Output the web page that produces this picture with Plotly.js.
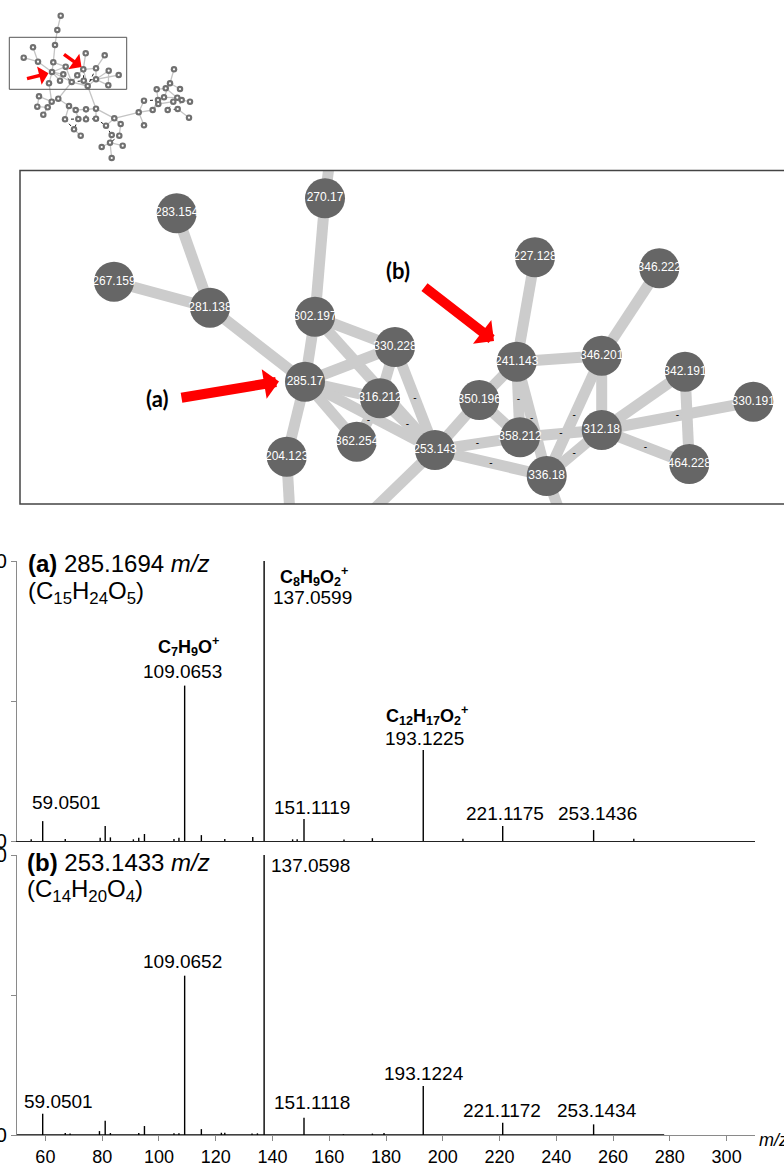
<!DOCTYPE html>
<html>
<head>
<meta charset="utf-8">
<script src="https://cdn.plot.ly/plotly-3.0.1.min.js"></script>
<style>
html,body{margin:0;padding:0;background:#fff;overflow:hidden;}
#chart{width:784px;height:1164px;}
</style>
</head>
<body>
<div id="chart"></div>
<script>
// ---------------- DATA ----------------
// Spectrum (a): precursor 285.1694 m/z
const massA = [55.0, 59.0501, 67.0, 79.3, 81.07, 82.9, 91.0, 92.9, 94.9, 105.3, 107.05, 109.0653, 114.95, 123.2, 133.06, 137.0599, 147.1, 148.7, 151.1119, 165.2, 175.2, 193.1225, 207.1, 221.1175, 253.1436, 267.3];
const intA  = [0.6, 7.1, 0.7, 1.2, 5.4, 1.3, 0.6, 1.2, 2.5, 0.7, 1.2, 55.5, 2.1, 0.7, 1.4, 100, 0.6, 0.6, 7.9, 0.5, 1.0, 32.5, 0.8, 5.4, 3.9, 0.8];
// Spectrum (b): precursor 253.1433 m/z
const massB = [59.0501, 67.0, 68.7, 79.05, 81.07, 82.9, 92.9, 94.9, 105.3, 107.05, 109.0652, 114.95, 122.0, 123.2, 132.8, 134.7, 137.0598, 151.1118, 165.0, 175.2, 179.3, 193.1224, 221.1172, 253.1434];
const intB  = [7.6, 0.7, 0.5, 1.4, 5.1, 0.7, 0.7, 3.2, 0.6, 0.6, 56.9, 2.1, 0.8, 0.8, 0.5, 0.6, 100, 6.2, 0.3, 0.5, 0.7, 17.5, 4.4, 3.8];
const scanRangeB = [50, 278];
const xTicks = [60, 80, 100, 120, 140, 160, 180, 200, 220, 240, 260, 280, 300];

// Molecular network (zoomed panel), node layout
const nodeLabels = ['270.17','283.154','267.159','281.138','302.197','330.228','285.17','316.212','362.254','204.123','253.143','350.196','241.143','227.128','346.222','346.201','342.191','330.191','312.18','358.212','336.18','464.228'];
const nodeX = [325,176.7,114,210,315,395,305,380,356.7,286.7,435,479.3,516.7,535,659.3,601.7,685,753.3,601.7,520,546.7,689.3];
const nodeY = [198.3,213.3,281.7,307.7,316.7,347,381.7,398.3,441.7,456.7,450,400,361.7,257.3,268.3,355.7,371.7,401.7,430,437.3,476,464];
// neighbours outside the zoomed window
const outLabels = ['o1','o2','o3','o4'];
const outX = [333.5, 291.4, 342, 570];
const outY = [130, 540, 540, 540];
const edges = [['270.17','o1'],['270.17','302.197'],['283.154','281.138'],['267.159','281.138'],['281.138','285.17'],['302.197','285.17'],['302.197','330.228'],['302.197','253.143'],['285.17','330.228'],['285.17','316.212'],['285.17','362.254'],['285.17','204.123'],['285.17','253.143'],['204.123','o2'],['330.228','316.212'],['330.228','253.143'],['316.212','253.143'],['316.212','362.254'],['253.143','o3'],['253.143','350.196'],['253.143','358.212'],['253.143','336.18'],['350.196','241.143'],['350.196','358.212'],['241.143','227.128'],['241.143','346.201'],['241.143','358.212'],['241.143','336.18'],['346.201','346.222'],['346.201','312.18'],['346.201','336.18'],['358.212','312.18'],['336.18','312.18'],['336.18','o4'],['312.18','342.191'],['312.18','330.191'],['312.18','464.228'],['342.191','464.228']];
const labeledEdges = [['316.212','253.143'],['330.228','253.143'],['253.143','358.212'],['253.143','336.18'],['241.143','358.212'],['241.143','336.18'],['346.201','336.18'],['358.212','312.18'],['336.18','312.18'],['312.18','464.228'],['312.18','330.191'],['316.212','362.254']];

// Overview network
const ovX = [60.7,57.3,55,33,23.7,38,53.3,65.7,52,63.3,60,49,71.7,85.7,104.7,83.3,96,108.7,118.7,77.3,83.7,96,108.3,87.7,39,51.7,58.3,37.3,47.7,43.3,69,75.7,86,96,65,78.3,86,96,74,80.7,106,114.3,120.7,111.7,119.3,110,122.7,101.7,111.7,138.7,144,144,152.7,156.7,158,164,170,174,165.7,180,177.3,167.7,177.7,181.7,190,189,173.3,158.3];
const ovY = [15.7,30,45,47.3,57.7,61.7,62.3,66.7,72,74.3,80.7,83.3,82,53.3,55.3,69.3,68.3,70.7,75,75.3,80.7,79.3,85.3,86,96.3,101.7,98.7,106.7,107.3,114.7,106,110,109.3,108.7,119.3,119,119.3,118.7,129.3,135.7,125.7,118.3,124,135,135.7,142.7,145.7,147,158,112.3,100.7,125.3,110,89.3,100,97.3,83.3,69.3,88.3,89,97.7,110,109,100,101.7,117.7,101.7,104];
const ovEdges = [[3,2],[2,1],[3,7],[4,6],[5,6],[6,9],[7,9],[7,8],[9,8],[9,10],[9,11],[9,12],[9,13],[8,13],[13,20],[13,24],[20,16],[16,14],[16,17],[17,15],[17,22],[22,18],[22,19],[22,23],[18,23],[24,22],[16,24],[12,26],[13,27],[24,34],[25,26],[26,27],[26,29],[28,29],[29,30],[25,28],[27,31],[31,32],[32,33],[33,34],[31,35],[32,36],[34,38],[39,40],[34,42],[41,42],[42,43],[43,45],[44,46],[46,47],[46,48],[46,49],[42,50],[50,51],[50,52],[50,53],[53,55],[53,68],[54,55],[54,59],[56,57],[57,58],[57,60],[59,61],[56,61],[61,67],[64,65],[63,66],[68,67]];
const ovDotted = [[8,10],[10,13],[13,21],[21,22],[17,24],[16,21],[33,37],[36,37],[37,38],[38,41],[35,39],[36,39],[35,36],[41,44],[44,45],[45,46],[51,55],[55,56],[57,59],[61,64],[62,63],[63,64],[67,62],[11,10]];

// ---------------- HELPERS ----------------
const W = 784, H = 1164;
const px = x => x / W;
const py = y => 1 - y / H;
const FONT = 'Arial, "Liberation Sans", sans-serif';

function sticks(m, h) {
  const x = [], y = [];
  for (let i = 0; i < m.length; i++) { x.push(m[i], m[i], null); y.push(0, h[i], null); }
  return {x, y};
}
const allNames = nodeLabels.concat(outLabels);
const allX = nodeX.concat(outX), allY = nodeY.concat(outY);
function pos(n) { const i = allNames.indexOf(n); return [allX[i], allY[i]]; }

const traces = [];
// spectrum a
const sa = sticks(massA, intA);
traces.push({x: sa.x, y: sa.y, xaxis: 'x', yaxis: 'y', mode: 'lines', line: {color: '#000', width: 1.4}, hoverinfo: 'skip', showlegend: false});
// spectrum b
const sb = sticks(massB, intB);
traces.push({x: scanRangeB, y: [0, 0], xaxis: 'x2', yaxis: 'y2', mode: 'lines', line: {color: '#000', width: 1.6}, hoverinfo: 'skip', showlegend: false, cliponaxis: false});
traces.push({x: sb.x, y: sb.y, xaxis: 'x2', yaxis: 'y2', mode: 'lines', line: {color: '#000', width: 1.4}, hoverinfo: 'skip', showlegend: false});

// network edges
const ex = [], ey = [];
edges.forEach(([a, b]) => { const p = pos(a), q = pos(b); ex.push(p[0], q[0], null); ey.push(p[1], q[1], null); });
traces.push({x: ex, y: ey, xaxis: 'x3', yaxis: 'y3', mode: 'lines', line: {color: '#cccccc', width: 11}, hoverinfo: 'skip', showlegend: false});
// edge label dashes
const dx = [], dy = [];
labeledEdges.forEach(([a, b]) => { const p = pos(a), q = pos(b); dx.push((p[0] + q[0]) / 2); dy.push((p[1] + q[1]) / 2); });
traces.push({x: dx, y: dy, xaxis: 'x3', yaxis: 'y3', mode: 'text', text: dx.map(() => '-'), textfont: {family: FONT, size: 10, color: '#000'}, hoverinfo: 'skip', showlegend: false});
// nodes
traces.push({x: nodeX, y: nodeY, xaxis: 'x3', yaxis: 'y3', mode: 'markers+text', text: nodeLabels, textposition: 'middle center',
  textfont: {family: FONT, size: 12, color: '#ffffff'}, marker: {size: 40, color: '#666666'}, hoverinfo: 'skip', showlegend: false, cliponaxis: false});

// overview
const ox = [], oy = [];
ovEdges.forEach(([a, b]) => { ox.push(ovX[a-1], ovX[b-1], null); oy.push(ovY[a-1], ovY[b-1], null); });
traces.push({x: ox, y: oy, xaxis: 'x4', yaxis: 'y4', mode: 'lines', line: {color: '#c4c4c4', width: 1.3}, hoverinfo: 'skip', showlegend: false});
const odx = [], ody = [];
ovDotted.forEach(([a, b]) => { odx.push(ovX[a-1], ovX[b-1], null); ody.push(ovY[a-1], ovY[b-1], null); });
traces.push({x: odx, y: ody, xaxis: 'x4', yaxis: 'y4', mode: 'lines', line: {color: '#222', width: 1, dash: 'dot'}, hoverinfo: 'skip', showlegend: false});
traces.push({x: ovX, y: ovY, xaxis: 'x4', yaxis: 'y4', mode: 'markers', marker: {size: 6.5, color: '#707070'}, hoverinfo: 'skip', showlegend: false});
traces.push({x: ovX, y: ovY, xaxis: 'x4', yaxis: 'y4', mode: 'markers', marker: {size: 2.2, color: '#ffffff'}, hoverinfo: 'skip', showlegend: false});

// ---------------- LAYOUT ----------------
const xdom = [px(17), px(755)];
const layout = {
  width: W, height: H, margin: {l: 0, r: 0, t: 0, b: 0},
  paper_bgcolor: '#fff', plot_bgcolor: 'rgba(0,0,0,0)',
  font: {family: FONT, color: '#000'},
  showlegend: false,
  xaxis: {domain: xdom, range: [50, 310], anchor: 'y', showline: true, linecolor: '#222', linewidth: 1.4,
    ticks: '', showticklabels: false, showgrid: false, zeroline: false, fixedrange: true},
  yaxis: {domain: [py(841), py(561)], range: [0, 100], anchor: 'x', showline: true, linecolor: '#8a8a8a', linewidth: 1.2,
    ticks: 'outside', ticklen: 5, tickcolor: '#8a8a8a', tickvals: [0, 50, 100], ticktext: ['0', '', '100'],
    tickfont: {size: 20, family: FONT}, showgrid: false, zeroline: false, automargin: false},
  xaxis2: {domain: xdom, range: [50, 310], anchor: 'y2', showline: true, linecolor: '#8a8a8a', linewidth: 1.2,
    ticks: 'outside', ticklen: 5, tickcolor: '#8a8a8a', tickvals: xTicks, tickfont: {size: 18, family: FONT},
    showgrid: false, zeroline: false, automargin: false},
  yaxis2: {domain: [py(1135), py(855)], range: [0, 100], anchor: 'x2', showline: true, linecolor: '#8a8a8a', linewidth: 1.2,
    ticks: 'outside', ticklen: 5, tickcolor: '#8a8a8a', tickvals: [0, 50, 100], ticktext: ['0', '', '100'],
    tickfont: {size: 20, family: FONT}, showgrid: false, zeroline: false, automargin: false},
  xaxis3: {domain: [px(20), 1], range: [20, 784], anchor: 'y3', visible: false},
  yaxis3: {domain: [py(504), py(170)], range: [504, 170], anchor: 'x3', visible: false},
  xaxis4: {domain: [0, px(200)], range: [0, 200], anchor: 'y4', visible: false},
  yaxis4: {domain: [py(170), 1], range: [170, 0], anchor: 'x4', visible: false},
  shapes: [
    {type: 'rect', xref: 'paper', yref: 'paper', x0: px(20), x1: px(820), y0: py(504), y1: py(170.5), line: {color: '#444', width: 1.5}},
    {type: 'rect', xref: 'x4', yref: 'y4', x0: 9.3, x1: 126.7, y0: 37.3, y1: 89.3, line: {color: '#555', width: 1}}
  ],
  annotations: []
};

const ann = layout.annotations;
function txt(text, x, y, size, xanchor) {
  ann.push({text: text, xref: 'paper', yref: 'paper', x: px(x), y: py(y), xanchor: xanchor || 'center', yanchor: 'middle',
    showarrow: false, font: {family: FONT, size: size, color: '#000'}});
}
// spectrum (a) labels
txt('<b>(a)</b> 285.1694 <i>m/z</i>', 26, 563, 24, 'left');
txt('(C<sub>15</sub>H<sub>24</sub>O<sub>5</sub>)', 26, 592, 24, 'left');
txt('<b>C<sub>8</sub>H<sub>9</sub>O<sub>2</sub><sup>+</sup></b>', 278, 576, 18, 'left');
txt('137.0599', 271, 597, 19, 'left');
txt('<b>C<sub>7</sub>H<sub>9</sub>O<sup>+</sup></b>', 188, 646, 18);
txt('109.0653', 182.5, 672, 19);
txt('<b>C<sub>12</sub>H<sub>17</sub>O<sub>2</sub><sup>+</sup></b>', 427, 715, 18);
txt('193.1225', 424, 738, 19);
txt('59.0501', 66, 802, 19);
txt('151.1119', 312, 807, 19);
txt('221.1175', 505, 813, 19);
txt('253.1436', 597, 813, 19);
// spectrum (b) labels
txt('<b>(b)</b> 253.1433 <i>m/z</i>', 25, 862, 24, 'left');
txt('(C<sub>14</sub>H<sub>20</sub>O<sub>4</sub>)', 25, 891, 24, 'left');
txt('137.0598', 310, 865, 19);
txt('109.0652', 182.5, 961, 19);
txt('59.0501', 58, 1101, 19);
txt('151.1118', 312, 1102, 19);
txt('193.1224', 424, 1073, 19);
txt('221.1172', 502, 1110, 19);
txt('253.1434', 597, 1110, 19);
ann.push({text: '<i>m/z</i>', xref: 'paper', yref: 'paper', x: px(757), y: py(1140), xanchor: 'left', yanchor: 'middle', showarrow: false, font: {family: FONT, size: 18, color: '#000'}});

// arrows in zoomed network
function arrow(xr, yr, tip, tail, w, size) {
  ann.push({xref: xr, yref: yr, axref: xr, ayref: yr, x: tip[0], y: tip[1], ax: tail[0], ay: tail[1], text: '',
    showarrow: true, arrowhead: 1, arrowsize: size, arrowwidth: w, arrowcolor: '#ff0000', standoff: 0, startstandoff: 0});
}
arrow('x3', 'y3', [279, 381.5], [180, 398], 10, 0.5);
arrow('x3', 'y3', [494, 341], [423, 286], 10, 0.5);
arrow('x4', 'y4', [48.5, 73.3], [25.5, 79], 3.5, 0.9);
arrow('x4', 'y4', [81.5, 67], [62.5, 53.3], 3.5, 0.9);
ann.push({text: '<b>(a)</b>', xref: 'x3', yref: 'y3', x: 157, y: 398, showarrow: false, font: {family: 'Lato, "Open Sans", sans-serif', size: 22, color: '#000'}});
ann.push({text: '<b>(b)</b>', xref: 'x3', yref: 'y3', x: 398, y: 270, showarrow: false, font: {family: 'Lato, "Open Sans", sans-serif', size: 22, color: '#000'}});

Plotly.newPlot('chart', traces, layout, {staticPlot: true, displayModeBar: false});
</script>
</body>
</html>
